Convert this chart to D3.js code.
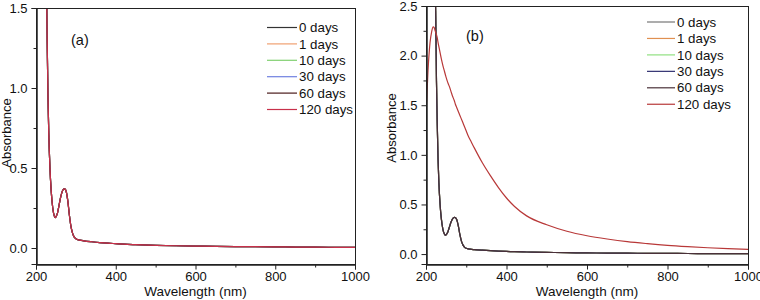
<!DOCTYPE html>
<html>
<head>
<meta charset="utf-8">
<script src="https://cdn.jsdelivr.net/npm/d3@7"></script>
<style>
  body { margin: 0; background: #fff; }
  svg { display: block; font-family: 'Liberation Sans', Arial, sans-serif; }
</style>
</head>
<body>
<svg id="chart" width="760" height="300"></svg>
<script>
// UV-vis spectra, two panels (a) and (b)

// --- Données ---
const waveNm = [200, 205, 210, 214, 218, 220, 222, 224, 226, 228, 230, 232, 235, 238, 242, 246, 248, 250, 254, 258,
  262, 266, 270, 273, 276, 280, 284, 288, 292, 296, 300, 305, 310, 320, 340, 360, 380, 400, 420, 450,
  500, 550, 600, 650, 700, 750, 800, 850, 900, 950, 1000];

// spectre "frais" (toutes les courbes de (a), et 0-60 jours de (b))
const absFresh = [3.8, 3.7, 3.6, 3.4, 3.1, 2.9, 2.7, 2.45, 1.75, 1.3, 0.95, 0.72, 0.5, 0.36, 0.25, 0.2, 0.19, 0.195, 0.22, 0.27,
  0.32, 0.355, 0.37, 0.368, 0.35, 0.29, 0.2, 0.13, 0.09, 0.068, 0.058, 0.052, 0.049, 0.045, 0.039, 0.034, 0.030, 0.027, 0.024, 0.021,
  0.017, 0.014, 0.012, 0.010, 0.009, 0.008, 0.007, 0.006, 0.005, 0.0045, 0.004];

// 120 jours, panneau (b)
const absAged = [1.40, 1.85, 2.13, 2.24, 2.29, 2.285, 2.26, 2.235, 2.21, 2.18, 2.13, 2.09, 2.03, 1.97, 1.90, 1.84, 1.81, 1.78, 1.73, 1.69,
  1.64, 1.59, 1.55, 1.51, 1.48, 1.44, 1.40, 1.36, 1.32, 1.28, 1.24, 1.19, 1.15, 1.07, 0.92, 0.79, 0.67, 0.565, 0.48, 0.385,
  0.295, 0.23, 0.185, 0.152, 0.125, 0.105, 0.088, 0.075, 0.064, 0.055, 0.047];

const seriesLabels = ['0 days', '1 days', '10 days', '30 days', '60 days', '120 days'];
const spectraA = [absFresh, absFresh, absFresh, absFresh, absFresh, absFresh];
const spectraB = [absFresh, absFresh, absFresh, absFresh, absFresh, absAged];

const colorsA = ['#333333', '#f0a070', '#80d070', '#7080e0', '#4a1a1a', '#c8304a'];
const colorsB = ['#777777', '#e09050', '#90e080', '#303070', '#4a3038', '#b83838'];

const xMajor = [200, 400, 600, 800, 1000];
const xMinor = [300, 500, 700, 900];
const yMajorA = [0, 0.5, 1.0, 1.5];
const yMinorA = [0.25, 0.75, 1.25];
const yMajorB = [0, 0.5, 1.0, 1.5, 2.0, 2.5];
const yMinorB = [0.25, 0.75, 1.25, 1.75, 2.25];

const svg = d3.select('#chart');

function drawPanel(cfg) {
    const x = d3.scaleLinear().domain([200, 1000]).range([cfg.left, cfg.right]);
    const y = d3.scaleLinear().domain(cfg.yDomain).range([cfg.bottom, cfg.top]);
    const g = svg.append('g');

    const clipId = 'clip-' + cfg.name;
    g.append('clipPath').attr('id', clipId)
        .append('rect')
        .attr('x', cfg.left).attr('y', cfg.top)
        .attr('width', cfg.right - cfg.left).attr('height', cfg.bottom - cfg.top);

    // courbes
    const line = d3.line()
        .x((d, i) => x(waveNm[i]))
        .y(d => y(d))
        .curve(d3.curveMonotoneX);

    const curves = g.append('g').attr('clip-path', `url(#${clipId})`);
    cfg.spectra.forEach((vals, i) => {
        curves.append('path')
            .attr('d', line(vals))
            .attr('fill', 'none')
            .attr('stroke', cfg.colors[i])
            .attr('stroke-width', 1.2);
    });

    // cadre
    g.append('rect')
        .attr('x', cfg.left + 0.5).attr('y', cfg.top + 0.5)
        .attr('width', cfg.right - cfg.left).attr('height', cfg.bottom - cfg.top)
        .attr('fill', 'none').attr('stroke', '#222').attr('stroke-width', 1);

    // axes
    const ax = g.append('g').attr('transform', `translate(0,${cfg.bottom + 0.5})`);
    ax.call(d3.axisBottom(x).tickValues(xMajor).tickSize(5).tickPadding(2).tickFormat(d3.format('d')));
    const axm = g.append('g').attr('transform', `translate(0,${cfg.bottom + 0.5})`);
    axm.call(d3.axisBottom(x).tickValues(xMinor).tickSize(3).tickFormat(''));

    const ay = g.append('g').attr('transform', `translate(${cfg.left + 0.5},0)`);
    ay.call(d3.axisLeft(y).tickValues(cfg.yMajor).tickSize(5).tickPadding(cfg.yPad).tickFormat(d3.format('.1f')));
    const aym = g.append('g').attr('transform', `translate(${cfg.left + 0.5},0)`);
    aym.call(d3.axisLeft(y).tickValues(cfg.yMinor).tickSize(3).tickFormat(''));

    [ax, axm, ay, aym].forEach(a => {
        a.select('.domain').attr('stroke', '#222');
        a.selectAll('.tick line').attr('stroke', '#222');
        a.selectAll('text').attr('fill', '#111').style('font-size', '13px')
            .style('font-family', "'Liberation Sans', Arial, sans-serif");
    });

    // titres d'axes
    g.append('text')
        .attr('x', (cfg.left + cfg.right) / 2)
        .attr('y', 296)
        .attr('text-anchor', 'middle')
        .style('font-size', '13.5px')
        .attr('fill', '#111')
        .text('Wavelength (nm)');

    g.append('text')
        .attr('transform', `translate(${cfg.yTitleX},${cfg.yTitleY}) rotate(-90)`)
        .attr('text-anchor', 'middle')
        .style('font-size', '13px')
        .attr('fill', '#111')
        .text('Absorbance');

    // étiquette du panneau
    g.append('text')
        .attr('x', cfg.tagX).attr('y', cfg.tagY)
        .style('font-size', '14.5px')
        .attr('fill', '#111')
        .text(cfg.tag);

    // légende
    seriesLabels.forEach((lab, i) => {
        const ly = cfg.legY + i * cfg.legStep;
        g.append('line')
            .attr('x1', cfg.legX).attr('x2', cfg.legX + cfg.legLen)
            .attr('y1', ly).attr('y2', ly)
            .attr('stroke', cfg.colors[i]).attr('stroke-width', 1.2);
        g.append('text')
            .attr('x', cfg.legX + cfg.legLen + 2).attr('y', ly)
            .attr('dy', '0.35em')
            .style('font-size', '13.3px')
            .attr('fill', '#111')
            .text(lab);
    });
}

drawPanel({
    name: 'a', left: 36, right: 355, top: 8, bottom: 264, yDomain: [-0.1, 1.5],
    yMajor: yMajorA, yMinor: yMinorA, yPad: 4,
    spectra: spectraA, colors: colorsA,
    yTitleX: 11, yTitleY: 133,
    tag: '(a)', tagX: 71, tagY: 45,
    legX: 267, legLen: 30, legY: 27.5, legStep: 16.4
});

drawPanel({
    name: 'b', left: 426, right: 748, top: 6, bottom: 264, yDomain: [-0.1, 2.5],
    yMajor: yMajorB, yMinor: yMinorB, yPad: 4,
    spectra: spectraB, colors: colorsB,
    yTitleX: 396, yTitleY: 128,
    tag: '(b)', tagX: 466, tagY: 41,
    legX: 647, legLen: 28, legY: 22, legStep: 16.45
});
</script>
</body>
</html>
